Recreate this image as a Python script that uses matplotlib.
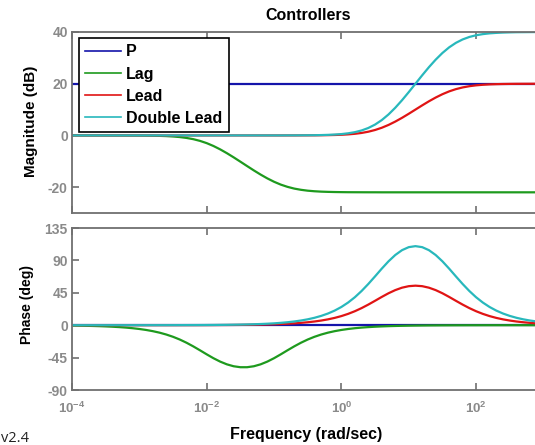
import numpy as np
import matplotlib
matplotlib.use("Agg")
import matplotlib.pyplot as plt

plt.rcParams['font.family'] = ['Liberation Sans', 'DejaVu Sans']
plt.rcParams['mathtext.fontset'] = 'custom'
plt.rcParams['mathtext.rm'] = 'Liberation Sans:bold'
plt.rcParams['mathtext.it'] = 'Liberation Sans:bold'
plt.rcParams['mathtext.bf'] = 'Liberation Sans:bold'
plt.rcParams['mathtext.default'] = 'rm'

# ---- data ----
freq_exp = [-4.0, -3.9, -3.8, -3.7, -3.6, -3.5, -3.4, -3.3, -3.2, -3.1,
            -3.0, -2.9, -2.8, -2.7, -2.6, -2.5, -2.4, -2.3, -2.2, -2.1,
            -2.0, -1.9, -1.8, -1.7, -1.6, -1.5, -1.4, -1.3, -1.2, -1.1,
            -1.0, -0.9, -0.8, -0.7, -0.6, -0.5, -0.4, -0.3, -0.2, -0.1,
            0.0, 0.1, 0.2, 0.3, 0.4, 0.5, 0.6, 0.7, 0.8, 0.9,
            1.0, 1.1, 1.2, 1.3, 1.4, 1.5, 1.6, 1.7, 1.8, 1.9,
            2.0, 2.1, 2.2, 2.3, 2.4, 2.5, 2.6, 2.7, 2.8, 2.9, 3.0]

p_mag = [20.0] * len(freq_exp)
p_phase = [0.0] * len(freq_exp)

lag_mag = [0.00, 0.00, 0.00, 0.00, 0.00, 0.00, -0.01, -0.01, -0.02, -0.03,
           -0.04, -0.07, -0.11, -0.17, -0.26, -0.41, -0.63, -0.97, -1.44, -2.11,
           -2.98, -4.08, -5.39, -6.87, -8.47, -10.15, -11.85, -13.53, -15.13, -16.61,
           -17.92, -19.02, -19.89, -20.56, -21.03, -21.37, -21.59, -21.74, -21.83, -21.89,
           -21.93, -21.96, -21.97, -21.98, -21.99, -21.99, -22.00, -22.00, -22.00, -22.00,
           -22.00, -22.00, -22.00, -22.00, -22.00, -22.00, -22.00, -22.00, -22.00, -22.00,
           -22.00, -22.00, -22.00, -22.00, -22.00, -22.00, -22.00, -22.00, -22.00, -22.00, -22.00]
lag_phase = [-0.53, -0.66, -0.84, -1.05, -1.32, -1.67, -2.10, -2.64, -3.32, -4.18,
             -5.26, -6.61, -8.29, -10.37, -12.96, -16.11, -19.89, -24.34, -29.38, -34.84,
             -40.46, -45.84, -50.57, -54.37, -57.02, -58.35, -58.35, -57.02, -54.37, -50.57,
             -45.84, -40.46, -34.84, -29.38, -24.34, -19.89, -16.11, -12.96, -10.37, -8.29,
             -6.61, -5.26, -4.18, -3.32, -2.64, -2.10, -1.67, -1.32, -1.05, -0.84,
             -0.66, -0.53, -0.42, -0.33, -0.27, -0.21, -0.17, -0.13, -0.11, -0.08,
             -0.07, -0.05, -0.04, -0.03, -0.03, -0.02, -0.02, -0.01, -0.01, -0.01, -0.01]

lead_mag = [0.00, 0.00, 0.00, 0.00, 0.00, 0.00, 0.00, 0.00, 0.00, 0.00,
            0.00, 0.00, 0.00, 0.00, 0.00, 0.00, 0.00, 0.00, 0.00, 0.00,
            0.00, 0.00, 0.00, 0.00, 0.00, 0.00, 0.00, 0.00, 0.00, 0.00,
            0.00, 0.00, 0.01, 0.01, 0.02, 0.03, 0.04, 0.07, 0.11, 0.17,
            0.26, 0.41, 0.63, 0.96, 1.44, 2.10, 2.97, 4.06, 5.35, 6.80,
            8.37, 10.00, 11.63, 13.20, 14.65, 15.94, 17.03, 17.90, 18.56, 19.04,
            19.37, 19.59, 19.74, 19.83, 19.89, 19.93, 19.96, 19.97, 19.98, 19.99, 19.99]
lead_phase = [0.00, 0.00, 0.00, 0.00, 0.00, 0.00, 0.01, 0.01, 0.01, 0.01,
              0.01, 0.02, 0.02, 0.03, 0.03, 0.04, 0.05, 0.07, 0.08, 0.10,
              0.13, 0.16, 0.21, 0.26, 0.33, 0.41, 0.52, 0.65, 0.82, 1.03,
              1.29, 1.63, 2.05, 2.58, 3.25, 4.09, 5.14, 6.46, 8.10, 10.14,
              12.66, 15.74, 19.42, 23.75, 28.64, 33.91, 39.29, 44.37, 48.74, 52.10,
              54.20, 54.90, 54.20, 52.10, 48.74, 44.37, 39.29, 33.91, 28.64, 23.75,
              19.42, 15.74, 12.66, 10.14, 8.10, 6.46, 5.14, 4.09, 3.25, 2.58, 2.05]

dlead_mag = [0.00, 0.00, 0.00, 0.00, 0.00, 0.00, 0.00, 0.00, 0.00, 0.00,
             0.00, 0.00, 0.00, 0.00, 0.00, 0.00, 0.00, 0.00, 0.00, 0.00,
             0.00, 0.00, 0.00, 0.00, 0.00, 0.00, 0.00, 0.00, 0.00, 0.00,
             0.00, 0.00, 0.02, 0.02, 0.04, 0.06, 0.08, 0.14, 0.22, 0.34,
             0.52, 0.82, 1.26, 1.92, 2.88, 4.20, 5.94, 8.12, 10.70, 13.60,
             16.74, 20.00, 23.26, 26.40, 29.30, 31.88, 34.06, 35.80, 37.12, 38.08,
             38.74, 39.18, 39.48, 39.66, 39.78, 39.86, 39.92, 39.94, 39.96, 39.98, 39.98]
dlead_phase = [0.00, 0.00, 0.00, 0.00, 0.00, 0.00, 0.02, 0.02, 0.02, 0.02,
               0.02, 0.04, 0.04, 0.06, 0.06, 0.08, 0.10, 0.14, 0.16, 0.20,
               0.26, 0.32, 0.42, 0.52, 0.66, 0.82, 1.04, 1.30, 1.64, 2.06,
               2.58, 3.26, 4.10, 5.16, 6.50, 8.18, 10.28, 12.92, 16.20, 20.28,
               25.32, 31.48, 38.84, 47.50, 57.28, 67.82, 78.58, 88.74, 97.48, 104.20,
               108.40, 109.80, 108.40, 104.20, 97.48, 88.74, 78.58, 67.82, 57.28, 47.50,
               38.84, 31.48, 25.32, 20.28, 16.20, 12.92, 10.28, 8.18, 6.50, 5.16, 4.10]

series_names = ['P', 'Lag', 'Lead', 'Double Lead']
series_colors = ['#1414aa', '#1e9a1e', '#e01414', '#28b8bc']

x_ticks = [1e-4, 1e-2, 1e0, 1e2]
x_tick_labels = [r'$10^{-4}$', r'$10^{-2}$', r'$10^{0}$', r'$10^{2}$']
mag_ticks = [-20, 0, 20, 40]
phase_ticks = [-90, -45, 0, 45, 90, 135]

# ---- figure ----
W, H = 535, 445
fig = plt.figure(figsize=(W / 100, H / 100), dpi=100)

def px_axes(left, top, right, bottom):
    return fig.add_axes([left / W, 1 - bottom / H, (right - left) / W, (bottom - top) / H])

ax1 = px_axes(72, 32, 535, 213)
ax2 = px_axes(72, 228, 535, 390)

freq = 10 ** np.array(freq_exp)
mags = [p_mag, lag_mag, lead_mag, dlead_mag]
phases = [p_phase, lag_phase, lead_phase, dlead_phase]

for name, col, m, ph in zip(series_names, series_colors, mags, phases):
    ax1.semilogx(freq, m, color=col, lw=1.6, label=name)
    ax2.semilogx(freq, ph, color=col, lw=1.6)

spine_col = '#707070'
tick_col = '#8a8a8a'
xmax = 10 ** 2.875
for ax in (ax1, ax2):
    ax.set_xlim(1e-4, xmax)
    ax.set_xticks(x_ticks)
    ax.xaxis.set_minor_locator(matplotlib.ticker.NullLocator())
    for s in ('left', 'top', 'bottom'):
        ax.spines[s].set_color(spine_col)
        ax.spines[s].set_linewidth(1.3)
    ax.spines['right'].set_visible(False)
    ax.tick_params(axis='both', which='both', direction='in', length=5, width=1.2,
                   color=spine_col, labelcolor=tick_col, top=True, right=False,
                   labelsize=10)
    ax.tick_params(axis='y', pad=3)

ax1.set_ylim(-30, 40)
ax1.set_yticks(mag_ticks)
ax1.set_yticklabels([str(t) for t in mag_ticks], fontweight='bold')
ax1.set_xticklabels([])

ax2.set_ylim(-90, 135)
ax2.set_yticks(phase_ticks)
ax2.set_yticklabels([str(t) for t in phase_ticks], fontweight='bold')
ax2.set_xticklabels(x_tick_labels)
ax2.tick_params(axis='x', pad=8, labelsize=9.5)

leg = ax1.legend(loc='upper left', bbox_to_anchor=(7 / 463, 1 - 6 / 181), borderaxespad=0,
                 frameon=True, fancybox=False, framealpha=1, edgecolor='black',
                 prop={'weight': 'bold', 'size': 11.5}, handlelength=2.2,
                 handletextpad=0.35, labelspacing=0.45, borderpad=0.4)
leg.get_frame().set_linewidth(1.2)
for line in leg.get_lines():
    line.set_linewidth(1.2)

fig.text(308 / W, 1 - 15 / H, 'Controllers', ha='center', va='center',
         fontsize=11.5, fontweight='bold')
fig.text(31 / W, 1 - 121 / H, 'Magnitude (dB)', ha='center', va='center',
         rotation=90, fontsize=11, fontweight='bold')
fig.text(27.5 / W, 1 - 304 / H, 'Phase (deg)', ha='center', va='center',
         rotation=90, fontsize=10, fontweight='bold')
fig.text(306.5 / W, 1 - 435 / H, 'Frequency (rad/sec)', ha='center', va='center',
         fontsize=11.5, fontweight='bold')
fig.text(1 / W, 1 - 438 / H, 'v2.4', ha='left', va='center', fontsize=10.5,
         family=['Open Sans', 'DejaVu Sans'], color='#222222')

fig.savefig('out.png', dpi=100)
